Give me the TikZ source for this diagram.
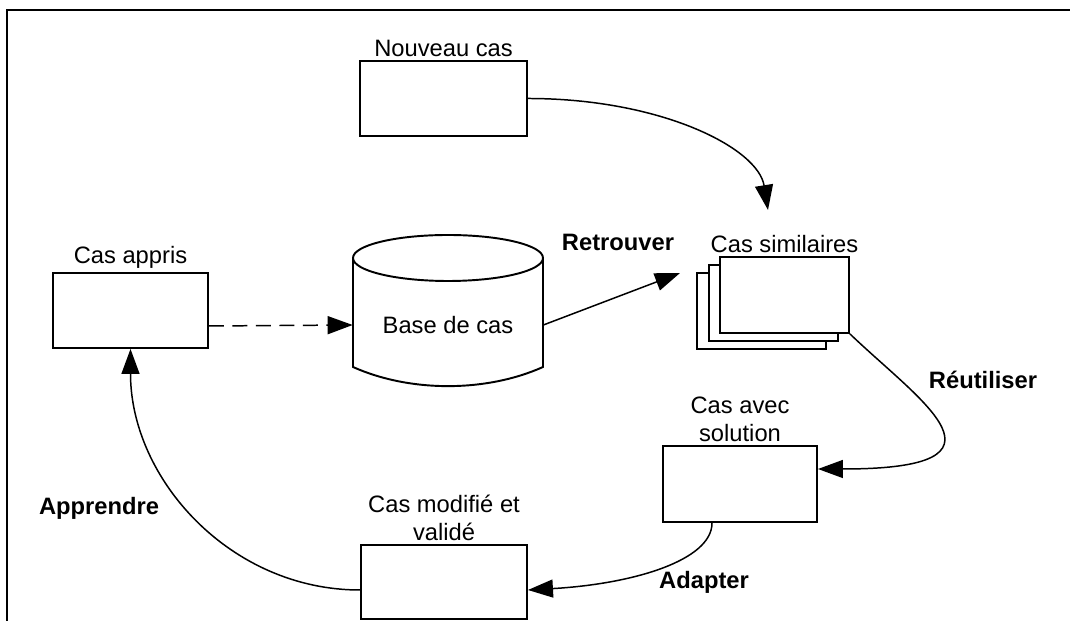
\documentclass[tikz,border=0pt]{standalone}
\usepackage{fontspec}
\setmainfont{Liberation Sans}
\usetikzlibrary{arrows.meta,positioning,calc}

\tikzset{
  casetext/.style={font=\fontsize{13.5}{15.5}\selectfont},
  casebox/.style={draw, line width=1.1pt, fill=white, minimum width=3.3cm, minimum height=1.5cm},
  flow/.style={line width=0.85pt, -{Triangle[length=0.5cm,width=0.36cm]}},
  steplabel/.style={font=\fontsize{13.5}{15.5}\selectfont\bfseries},
}

\begin{document}
\begin{tikzpicture}[casetext, label distance=-0.05cm, every label/.append style={casetext}]
\useasboundingbox (0,0) rectangle (21.4,12.42);

% frame
\draw[line width=1.1pt] (0.14,0) -- (0.14,12.22) -- (21.4,12.22);

% ================= BOXES =================
\node[casebox, minimum width=3.34cm, label=above:Nouveau cas] (nouveau) at (8.87,10.45) {};
\node[casebox, minimum width=3.1cm, label distance=-0.12cm, label=above:Cas appris] (appris) at (2.61,6.21) {};
\node[casebox, minimum width=3.08cm, minimum height=1.52cm,
  label={[align=center]above:Cas avec\\solution}] (avec) at (14.8,2.74) {};
\node[casebox, minimum width=3.32cm, minimum height=1.48cm, label distance=-0.08cm,
  label={[align=center]above:Cas modifié et\\validé}] (modif) at (8.88,0.78) {};

% stack of similar cases
\node[casebox, minimum width=2.58cm, minimum height=1.52cm] (simback) at (15.23,6.2) {};
\node[casebox, minimum width=2.58cm, minimum height=1.52cm] (simmid) at ($(simback)+(0.24,0.16)$) {};
\node[casebox, minimum width=2.58cm, minimum height=1.52cm, label=above:Cas similaires] (simfront) at ($(simmid)+(0.22,0.16)$) {};

% case base (cylinder)
\node[minimum width=3.8cm, inner sep=0pt] (base) at (8.96,5.92) {Base de cas};
\draw[line width=1.1pt] (7.06,7.26) -- (7.06,5.08)
  .. controls (8.2,4.57) and (9.72,4.57) .. (10.86,5.08) -- (10.86,7.26);
\draw[line width=1.1pt] (8.96,7.26) ellipse (1.9 and 0.46);

% ================= STEP LABELS =================
\node[steplabel] (retrouver) at (12.36,7.58) {Retrouver};
\node[steplabel] (reutiliser) at (19.66,4.82) {Réutiliser};
\node[steplabel] (adapter) at (14.08,0.78) {Adapter};
\node[steplabel] (apprendre) at (1.98,2.26) {Apprendre};

% free ends
\coordinate (simin) at (15.36,8.22);
\coordinate (simleft) at (13.6,6.96);

% ================= CONNECTORS =================
\draw[flow] (nouveau.east) .. controls +(2.66,0) and +(-0.2,1.24) .. (simin);
\draw[flow] (base.east) -- (simleft);
\draw[flow] (simfront.south east) .. controls +(1.42,-1.36) and +(4.16,0) .. ([yshift=0.3cm]avec.east);
\draw[flow] ([xshift=-0.56cm]avec.south) .. controls +(0,-0.75) and +(2.1,0.12) .. ([yshift=-0.16cm]modif.east);
\draw[flow] ([yshift=-0.16cm]modif.west) to[out=180,in=-90] (appris.south);
\draw[flow, dash pattern=on 0.3cm off 0.17cm] ([yshift=-0.31cm]appris.east) -- (base.west);

\end{tikzpicture}
\end{document}
